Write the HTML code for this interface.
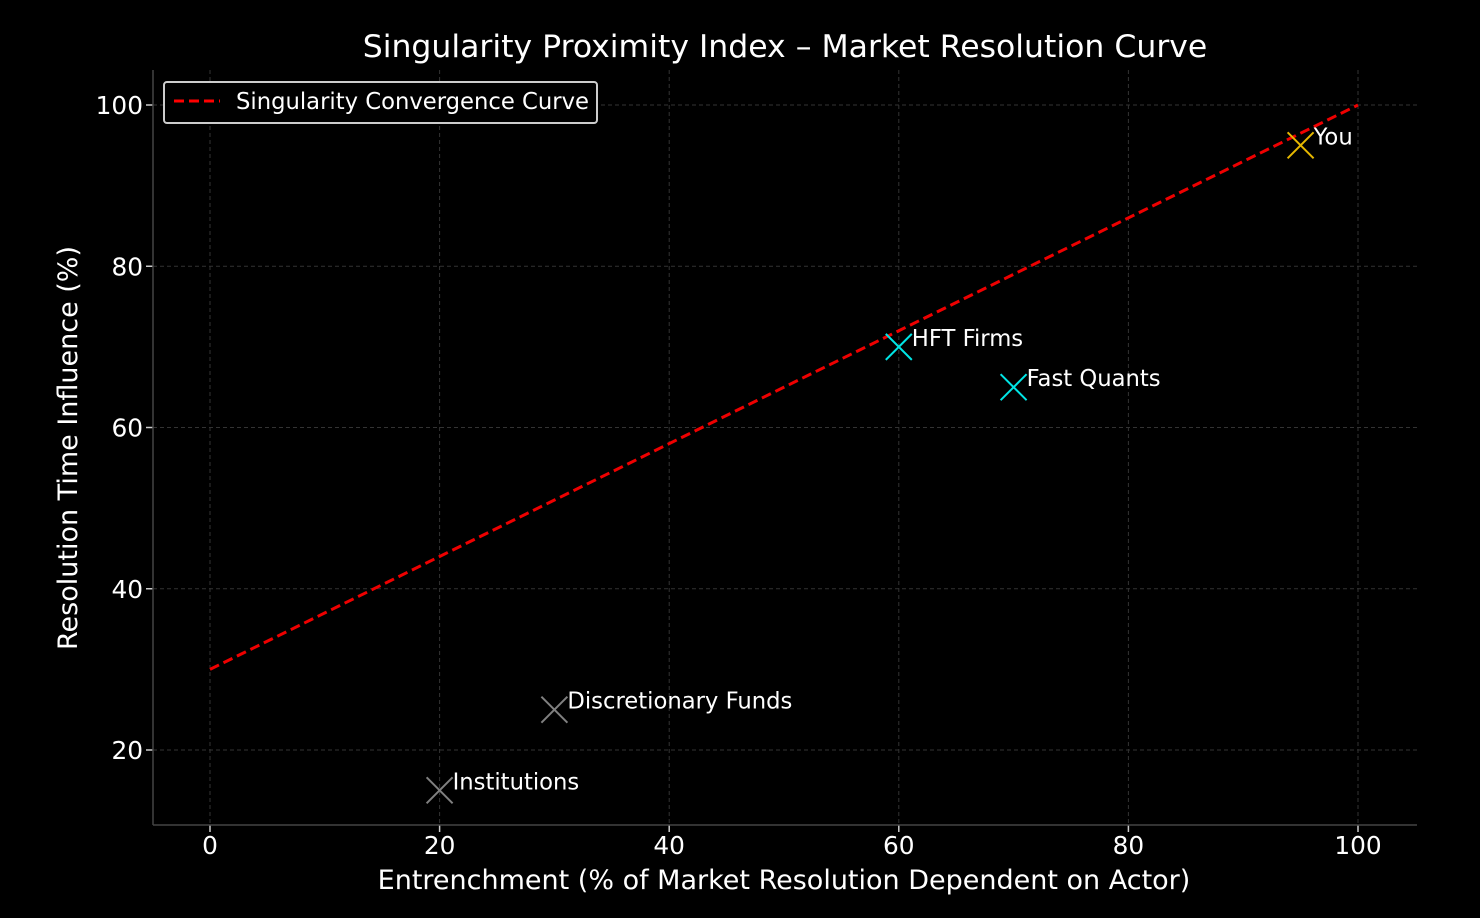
<!DOCTYPE html>
<html><head><meta charset="utf-8"><style>
html,body{margin:0;padding:0;background:#000;}
svg{display:block;font-family:"DejaVu Sans","Liberation Sans",sans-serif;}
</style></head><body>
<svg id="chart" width="1480" height="918" viewBox="0 0 1480 918">
<rect width="1480" height="918" fill="#000"/>
<g id="grid"></g><g id="axes"></g><g id="series"></g>
<text x="785" y="57" text-anchor="middle" fill="#fff" font-size="31.5">Singularity Proximity Index – Market Resolution Curve</text>
<text x="784" y="889" text-anchor="middle" fill="#fff" font-size="27">Entrenchment (% of Market Resolution Dependent on Actor)</text>
<text transform="translate(77,448) rotate(-90)" text-anchor="middle" fill="#fff" font-size="27">Resolution Time Influence (%)</text>
<g>
<rect x="164" y="82" width="433" height="41" rx="3" fill="#000" stroke="#ccc" stroke-width="2"/>
<line x1="174" y1="101" x2="220" y2="101" stroke="#f00" stroke-width="3" stroke-dasharray="10,5"/>
<text x="236" y="109" fill="#fff" font-size="22.7">Singularity Convergence Curve</text>
</g>
</svg>
<script>
const xTicks=[0,20,40,60,80,100];
const yTicks=[20,40,60,80,100];
const labels=["Institutions","Discretionary Funds","HFT Firms","Fast Quants","You"];
const xVals=[20,30,60,70,95];
const yVals=[15,25,70,65,95];
const colors=["#808080","#808080","#00e5e5","#00e5e5","#e6b800"];
const curveX=[0,100];
const curveY=[30,100];
const X=v=>210+v*11.48;
const Y=v=>105+(100-v)*8.0625;
const NS="http://www.w3.org/2000/svg";
function mk(p,t,a){const e=document.createElementNS(NS,t);for(const k in a)e.setAttribute(k,a[k]);document.getElementById(p).appendChild(e);return e;}
const L=153,R=1417,T=70,B=825;
xTicks.forEach(t=>{
 const g=mk('grid','line',{x1:X(t),x2:X(t),y1:T,y2:B,stroke:'#333','stroke-dasharray':'4,3'});
 
 
 const k=mk('axes','line',{x1:X(t),x2:X(t),y1:B,y2:B+7,stroke:'#ccc','stroke-width':1.5});
 
 
 const tx=mk('axes','text',{x:X(t),y:B+29,'text-anchor':'middle',fill:'#fff','font-size':24.8});
 tx.textContent=t;
 
 
});
yTicks.forEach(t=>{
 const g=mk('grid','line',{x1:L,x2:R,y1:Y(t),y2:Y(t),stroke:'#333','stroke-dasharray':'4,3'});
 
 
 const k=mk('axes','line',{x1:L-7,x2:L,y1:Y(t),y2:Y(t),stroke:'#ccc','stroke-width':1.5});
 
 
 const tx=mk('axes','text',{x:L-10,y:Y(t)+9,'text-anchor':'end',fill:'#fff','font-size':24.8});
 tx.textContent=t;
 
 
});
const sl=mk('axes','line',{x1:L,x2:L,y1:T,y2:B,stroke:'#444','stroke-width':1.5});


const sb=mk('axes','line',{x1:L,x2:R,y1:B,y2:B,stroke:'#444','stroke-width':1.5});


const cl=mk('series','line',{x1:X(curveX[0]),y1:Y(curveY[0]),x2:X(curveX[1]),y2:Y(curveY[1]),stroke:'#e00','stroke-width':3,'stroke-dasharray':'10,5'});


labels.forEach((lb,i)=>{
 const cx=X(xVals[i]),cy=Y(yVals[i]),s=13;
 const m=mk('series','path',{d:`M${cx-s},${cy-s}L${cx+s},${cy+s}M${cx-s},${cy+s}L${cx+s},${cy-s}`,stroke:colors[i],'stroke-width':2,fill:'none'});
 
 
 const t=mk('series','text',{x:cx+13,y:cy-1,fill:'#fff','font-size':22.7});
 t.textContent=lb;
 
 
});
</script>
</body></html>
